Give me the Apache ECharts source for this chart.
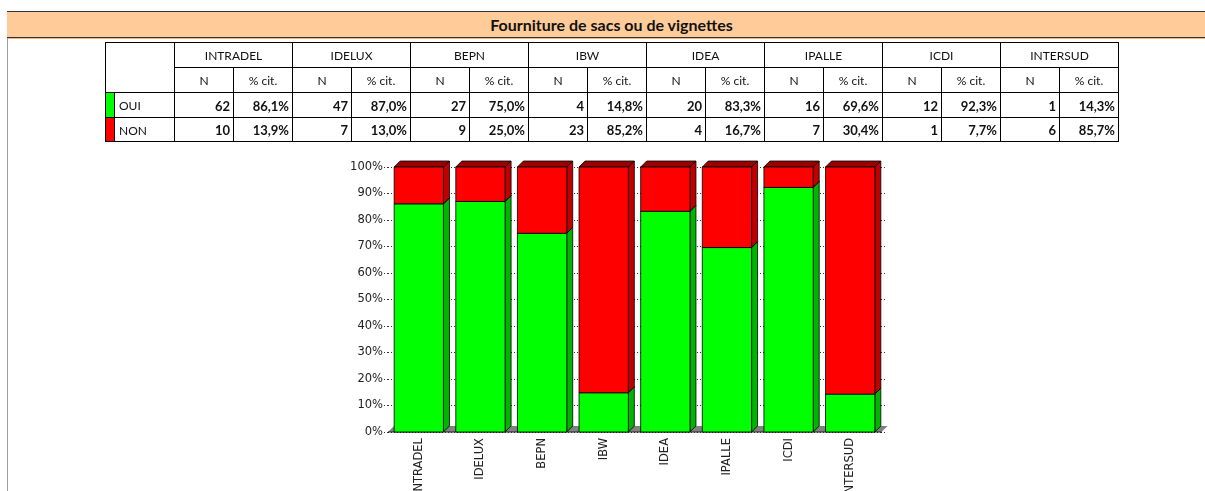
<!DOCTYPE html>
<html>
<head>
<meta charset="utf-8">
<script src="https://cdn.jsdelivr.net/npm/echarts@6/dist/echarts.min.js"></script>
<style>
  html, body { margin:0; padding:0; background:#fff; }
  #wrap { position:relative; width:1205px; height:491px; overflow:hidden; }
  #chart { position:absolute; left:0; top:0; width:1205px; height:491px; }
  .ov { position:absolute; box-sizing:border-box; }
  .cell { position:absolute; box-sizing:border-box; border:1px solid #000; font-family:Lato, "Liberation Sans", sans-serif; font-size:12px; color:#111; display:flex; align-items:center; white-space:nowrap; overflow:hidden; }
</style>
</head>
<body>
<div id="wrap">
  <div id="chart"></div>
  <div class="ov" id="titlebar" style="left:7px;top:11px;width:1198px;height:27px;background:#FFCC99;border-top:1px solid #333;border-bottom:1px solid #333;font-family:Lato,'Liberation Sans',sans-serif;font-weight:bold;font-size:16px;color:#111;text-align:center;line-height:25px;padding-left:11px;">Fourniture de sacs ou de vignettes</div>
  <div class="ov" style="left:7px;top:38px;width:1198px;height:1px;background:#F4B183;"></div>
  <div class="ov" style="left:7px;top:38px;width:1px;height:453px;background:#A0A0A0;"></div>
  <div class="ov" id="table" style="left:0;top:0;"></div>
</div>
<script>
// ---- Data ----
const title = 'Fourniture de sacs ou de vignettes';
const categories = ['INTRADEL', 'IDELUX', 'BEPN', 'IBW', 'IDEA', 'IPALLE', 'ICDI', 'INTERSUD'];
const ouiN   = [62, 47, 27, 4, 20, 16, 12, 1];
const nonN   = [10, 7, 9, 23, 4, 7, 1, 6];
const ouiPct = [86.1, 87.0, 75.0, 14.8, 83.3, 69.6, 92.3, 14.3];
const nonPct = [13.9, 13.0, 25.0, 85.2, 16.7, 30.4, 7.7, 85.7];
const rowLabels = ['OUI', 'NON'];
const subHeaders = ['N', '% cit.'];

// ---- Table (HTML) ----
const tbl = document.getElementById('table');
function cell(x1, y1, x2, y2, text, opts) {
  opts = opts || {};
  const d = document.createElement('div');
  d.className = 'cell';
  d.style.left = x1 + 'px';
  d.style.top = y1 + 'px';
  d.style.width = (x2 - x1 + 1) + 'px';
  d.style.height = (y2 - y1 + 1) + 'px';
  d.style.justifyContent = opts.align === 'right' ? 'flex-end' : (opts.align === 'left' ? 'flex-start' : 'center');
  if (opts.align === 'right') d.style.paddingRight = '3px';
  if (opts.align === 'left') d.style.paddingLeft = '4px';
  if (opts.bold) { d.style.fontWeight = 'bold'; d.style.fontSize = '13px'; }
  if (opts.bg) d.style.background = opts.bg;
  if (opts.pt) d.style.paddingTop = opts.pt + 'px';
  d.textContent = text || '';
  tbl.appendChild(d);
}
const rowY = [42, 67, 92, 117, 141];
const colX0 = 174, colW = 59;
cell(105, 42, 174, 92, '');
categories.forEach((c, i) => {
  const x = colX0 + i * 2 * colW;
  cell(x, rowY[0], x + 2 * colW, rowY[1], c, { pt: 1 });
  cell(x, rowY[1], x + colW, rowY[2], subHeaders[0], { pt: 1 });
  cell(x + colW, rowY[1], x + 2 * colW, rowY[2], subHeaders[1], { pt: 1 });
});
const rowsN = [ouiN, nonN], rowsP = [ouiPct, nonPct], sw = ['#00FF00', '#FF0000'];
rowLabels.forEach((lab, r) => {
  const y1 = rowY[2 + r], y2 = rowY[3 + r];
  cell(105, y1, 114, y2, '', { bg: sw[r] });
  cell(114, y1, 174, y2, lab, { align: 'left', pt: 1 });
  categories.forEach((c, i) => {
    const x = colX0 + i * 2 * colW;
    cell(x, y1, x + colW, y2, String(rowsN[r][i]), { align: 'right', bold: true, pt: 1 });
    cell(x + colW, y1, x + 2 * colW, y2, rowsP[r][i].toFixed(1).replace('.', ',') + '%', { align: 'right', bold: true, pt: 1 });
  });
});

// ---- Chart ----
const D = 6;
const chart = echarts.init(document.getElementById('chart'), null, { renderer: 'canvas' });
const floorData = categories.map((c, i) => [i]);
const ouiData = categories.map((c, i) => [i, 0, ouiPct[i]]);
const nonData = categories.map((c, i) => [i, ouiPct[i], ouiPct[i] + nonPct[i]]);

function barRender(front, side, top) {
  return function (params, api) {
    const i = api.value(0);
    const p0 = api.coord([i, api.value(1)]);
    const p1 = api.coord([i, api.value(2)]);
    const w = api.size([1, 0])[0] * 0.8;
    const l = p0[0] - w / 2, r = p0[0] + w / 2;
    const yb = p0[1], yt = p1[1];
    const st = { stroke: '#000', lineWidth: 0.8 };
    return {
      type: 'group',
      children: [
        { type: 'polygon', shape: { points: [[r, yb], [r + D, yb - D], [r + D, yt - D], [r, yt]] }, style: Object.assign({ fill: side }, st) },
        { type: 'polygon', shape: { points: [[l, yt], [r, yt], [r + D, yt - D], [l + D, yt - D]] }, style: Object.assign({ fill: top }, st) },
        { type: 'rect', shape: { x: l, y: yt, width: w, height: yb - yt }, style: Object.assign({ fill: front }, st) }
      ]
    };
  };
}

chart.setOption({
  animation: false,
  backgroundColor: '#fff',
  grid: { left: 388, right: 324, top: 167, bottom: 59, containLabel: false, outerBoundsMode: 'none' },
  xAxis: {
    type: 'category',
    data: categories,
    axisLine: { show: false },
    axisTick: { show: false },
    axisLabel: { rotate: 90, margin: 6, fontFamily: 'DejaVu Sans', fontSize: 11.5, color: '#222', interval: 0 }
  },
  yAxis: [{
    type: 'value', min: 0, max: 100, interval: 10,
    axisLine: { show: false },
    axisTick: { show: true, length: 4, lineStyle: { color: '#333', type: [1, 2] } },
    axisLabel: { formatter: '{value}%', margin: 5, fontFamily: 'DejaVu Sans', fontSize: 11.5, color: '#222' },
    splitLine: { show: true, lineStyle: { color: '#333', type: [1, 2], width: 1 } }
  }, {
    type: 'value', min: 0, max: 100, interval: 10, position: 'right',
    axisLine: { show: false },
    axisTick: { show: true, length: 5, lineStyle: { color: '#333', type: [1, 2] } },
    axisLabel: { show: false },
    splitLine: { show: false }
  }],
  series: [
    {
      type: 'custom', name: 'floor', data: floorData, encode: { x: 0 },
      renderItem: function (params, api) {
        const i = api.value(0);
        const p = api.coord([i, 0]);
        const cw = api.size([1, 0])[0];
        const l = p[0] - cw / 2, r = p[0] + cw / 2, y = p[1];
        return {
          type: 'group',
          children: [
            { type: 'polygon', shape: { points: [[l, y], [r + 0.5, y], [r + D + 0.5, y - D], [l + D, y - D]] }, style: { fill: '#808080' } },
            { type: 'line', shape: { x1: l, y1: y, x2: r + 0.5, y2: y }, style: { stroke: '#222', lineWidth: 1 } }
          ]
        };
      }
    },
    { type: 'custom', name: 'OUI', data: ouiData, encode: { x: 0, y: [1, 2] }, renderItem: barRender('#00FF00', '#00B400', '#00A000') },
    { type: 'custom', name: 'NON', data: nonData, encode: { x: 0, y: [1, 2] }, renderItem: barRender('#FF0000', '#C00000', '#990000') }
  ]
});
</script>
</body>
</html>
